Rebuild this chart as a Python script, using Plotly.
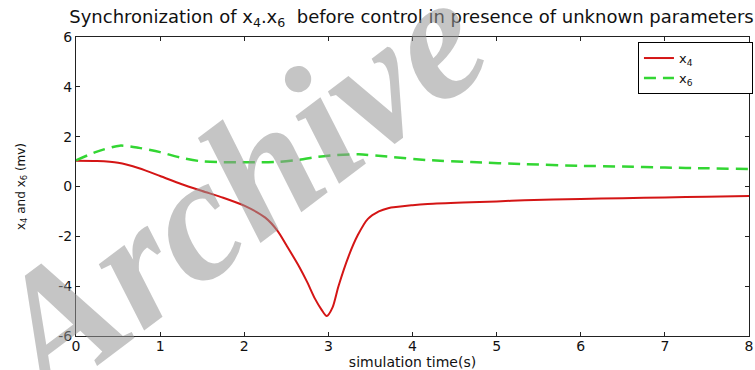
import plotly.graph_objects as go

# ---- data ----
t_x4 = [0.0, 0.25, 0.5, 0.75, 1.0, 1.25, 1.5, 1.75, 2.0, 2.25, 2.4, 2.5, 2.65, 2.75,
        2.84, 2.92, 2.98, 3.05, 3.12, 3.24, 3.35, 3.47, 3.6, 3.71, 4.0, 4.18, 4.6,
        5.0, 5.33, 6.0, 6.5, 7.0, 7.5, 8.0]
x4 = [1.03, 1.02, 0.95, 0.73, 0.42, 0.1, -0.18, -0.45, -0.77, -1.25, -1.8, -2.35, -3.2, -3.85,
      -4.5, -4.95, -5.2, -4.85, -4.0, -2.8, -1.95, -1.3, -1.0, -0.87, -0.75, -0.70, -0.64,
      -0.6, -0.55, -0.5, -0.47, -0.44, -0.41, -0.38]

t_x6 = [0.0, 0.25, 0.52, 0.75, 1.0, 1.23, 1.47, 1.7, 1.94, 2.2, 2.41, 2.65, 2.88, 3.1,
        3.36, 3.7, 4.18, 4.7, 5.33, 6.0, 6.5, 7.0, 7.5, 8.0]
x6 = [1.05, 1.4, 1.64, 1.55, 1.38, 1.17, 1.02, 0.98, 0.97, 0.97, 0.99, 1.07, 1.19, 1.26,
      1.29, 1.2, 1.06, 0.98, 0.9, 0.83, 0.8, 0.76, 0.73, 0.70]

x_ticks = [0, 1, 2, 3, 4, 5, 6, 7, 8]
y_ticks = [-6, -4, -2, 0, 2, 4, 6]
y_ticktext = ["-6", "-4", "-2", "0", "2", "4", "6"]

FONT = "DejaVu Sans"
PAD = "\u00a0" * 13

fig = go.Figure()
fig.add_trace(go.Scatter(x=t_x4, y=x4, mode="lines", name="x<sub>4</sub>" + PAD,
                         line=dict(color="#d41515", width=2, shape="spline", smoothing=0.7)))
fig.add_trace(go.Scatter(x=t_x6, y=x6, mode="lines", name="x<sub>6</sub>" + PAD,
                         line=dict(color="#33d633", width=2.5, dash="12px,7px",
                                   shape="spline", smoothing=0.7)))

fig.update_layout(
    width=755, height=370,
    margin=dict(l=76, r=2, t=37, b=34),
    paper_bgcolor="white", plot_bgcolor="white",
    font=dict(family=FONT, color="#111111"),
    title=dict(text="Synchronization of x<sub>4</sub>.x<sub>6</sub>\u00a0 before control in presence of unknown parameters",
               x=0.545, xref="container", xanchor="center", y=0.955, yanchor="middle",
               font=dict(size=18, family=FONT, color="#111111")),
    showlegend=True,
    legend=dict(x=0.835, y=0.983, xanchor="left", yanchor="top",
                bordercolor="black", borderwidth=1, bgcolor="white",
                font=dict(size=13, family=FONT), tracegroupgap=0),
    xaxis=dict(range=[0, 8], tickvals=x_ticks, ticks="inside", ticklen=4,
               tickcolor="#222", showline=True, linecolor="#222", linewidth=1,
               mirror="ticks", showgrid=False, zeroline=False,
               ticklabeloverflow="allow", ticklabelstandoff=-3,
               tickfont=dict(size=14, family=FONT),
               title=dict(text="simulation time(s)", standoff=0,
                          font=dict(size=14, family=FONT))),
    yaxis=dict(range=[-6, 6], tickvals=y_ticks, ticktext=y_ticktext, ticks="inside",
               ticklen=4, tickcolor="#222", showline=True, linecolor="#222", linewidth=1,
               mirror="ticks", showgrid=False, zeroline=False,
               tickfont=dict(size=14, family=FONT),
               title=dict(text="x<sub>4</sub> and x<sub>6</sub> (mv)", standoff=30,
                          font=dict(size=12, family=FONT))),
)

fig.add_annotation(text="<b><i>Archive</i></b>", x=0.235, y=0.49, xref="paper", yref="paper",
                   xanchor="center", yanchor="middle",
                   showarrow=False, textangle=-37,
                   font=dict(family="Liberation Serif", size=175, color="rgba(150,150,150,0.55)"))

fig.write_html("out.html")
